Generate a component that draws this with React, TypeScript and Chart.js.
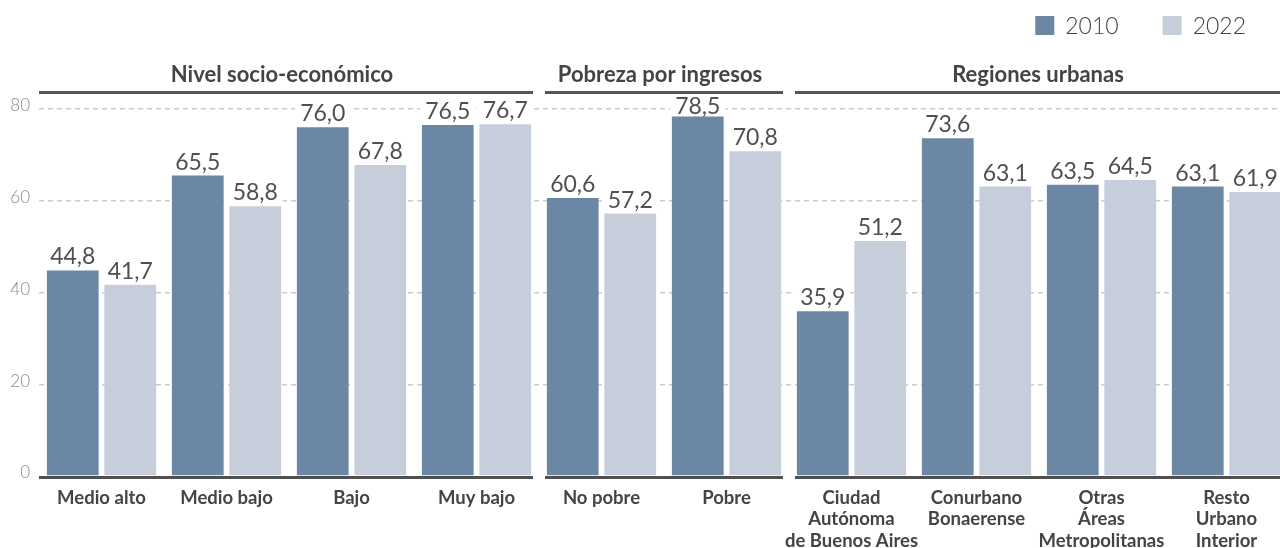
import React, { useEffect, useRef } from "react";
import { Chart, registerables } from "chart.js";

Chart.register(...registerables);

const categories: string[][] = [
  ["Medio alto"],
  ["Medio bajo"],
  ["Bajo"],
  ["Muy bajo"],
  ["No pobre"],
  ["Pobre"],
  ["Ciudad", "Autónoma", "de Buenos Aires"],
  ["Conurbano", "Bonaerense"],
  ["Otras", "Áreas", "Metropolitanas"],
  ["Resto", "Urbano", "Interior"],
];
const groupNames = ["Nivel socio-económico", "Pobreza por ingresos", "Regiones urbanas"];
const groupSizes = [4, 2, 4];
const seriesLabels = ["2010", "2022"];
const values2010 = [44.8, 65.5, 76.0, 76.5, 60.6, 78.5, 35.9, 73.6, 63.5, 63.1];
const values2022 = [41.7, 58.8, 67.8, 76.7, 57.2, 70.8, 51.2, 63.1, 64.5, 61.9];
const yTicks = [0, 20, 40, 60, 80];

const COLORS = ["#6B87A3", "#C7CEDB"];
const FONT = "Lato, 'Noto Sans', sans-serif";

const fmt = (v: number) => v.toFixed(1).replace(".", ",");

const overlayPlugin = {
  id: "overlay",
  afterDatasetsDraw(chart: any) {
    const ctx = chart.ctx;
    const xs = chart.scales.x;
    const ys = chart.scales.y;
    const area = chart.chartArea;
    const n = chart.data.labels.length;
    const step = xs.getPixelForValue(1) - xs.getPixelForValue(0);
    const boundary = (i: number) => xs.getPixelForValue(0) - step / 2 + i * step;
    const y0 = ys.getPixelForValue(0);

    // value labels
    ctx.save();
    ctx.font = `normal 23px ${FONT}`;
    ctx.textAlign = "center";
    ctx.textBaseline = "alphabetic";
    chart.data.datasets.forEach((ds: any, di: number) => {
      const meta = chart.getDatasetMeta(di);
      meta.data.forEach((bar: any, i: number) => {
        const t = fmt(ds.data[i]);
        const w = ctx.measureText(t).width;
        const base = Math.max(bar.y - 6, 113.5);
        ctx.fillStyle = "#ffffff";
        ctx.fillRect(bar.x - w / 2 - 5, base - 19, w + 10, 22);
        ctx.fillStyle = "#505050";
        ctx.fillText(t, bar.x, base);
      });
    });
    ctx.restore();

    // group headers + baselines
    ctx.save();
    let start = 0;
    groupSizes.forEach((size, g) => {
      const end = start + size;
      const left = boundary(start) + (start > 0 ? 6 : 0);
      const right = end < n ? boundary(end) - 6 : area.right;
      ctx.fillStyle = "#555555";
      ctx.fillRect(left, 91, right - left, 3);
      ctx.fillStyle = "#505050";
      ctx.fillRect(left, y0, right - left, 3);
      ctx.fillStyle = "#444444";
      ctx.font = `bold 22px ${FONT}`;
      ctx.textAlign = "center";
      ctx.textBaseline = "alphabetic";
      ctx.fillText(groupNames[g], (left + right) / 2 - 4, 82);
      start = end;
    });
    ctx.restore();

    // legend
    ctx.save();
    ctx.font = `300 23px ${FONT}`;
    ctx.textBaseline = "alphabetic";
    ctx.textAlign = "left";
    let xr = 1246;
    const items = chart.data.datasets.map((d: any) => ({ label: d.label, color: d.backgroundColor }));
    for (let k = items.length - 1; k >= 0; k--) {
      const it = items[k];
      const tw = ctx.measureText(it.label).width;
      const tx = xr - tw;
      ctx.fillStyle = "#444444";
      ctx.fillText(it.label, tx, 34);
      const sx = tx - 11 - 19;
      ctx.fillStyle = it.color;
      ctx.fillRect(sx, 16, 19, 19);
      xr = sx - 44;
    }
    ctx.restore();
  },
};

export default function App() {
  const ref = useRef<HTMLCanvasElement | null>(null);
  useEffect(() => {
    if (!ref.current) return;
    const chart = new Chart(ref.current, {
      type: "bar",
      data: {
        labels: categories,
        datasets: [
          { label: seriesLabels[0], data: values2010, backgroundColor: COLORS[0], categoryPercentage: 0.92, barPercentage: 0.9 },
          { label: seriesLabels[1], data: values2022, backgroundColor: COLORS[1], categoryPercentage: 0.92, barPercentage: 0.9 },
        ],
      },
      options: {
        responsive: false,
        animation: false,
        layout: { padding: { top: 109, right: 1, left: 0, bottom: 0 } },
        plugins: { legend: { display: false }, tooltip: { enabled: false }, title: { display: false } },
        scales: {
          x: {
            grid: { display: false, drawTicks: false },
            border: { display: false },
            ticks: {
              autoSkip: false,
              maxRotation: 0,
              minRotation: 0,
              padding: 11,
              color: "#444444",
              font: { family: FONT, size: 18.5, weight: "bold", lineHeight: 1.16 },
            },
            afterFit: (s: any) => {
              s.height = 72;
            },
          },
          y: {
            min: 0,
            max: 80,
            afterBuildTicks: (s: any) => {
              s.ticks = yTicks.map((v) => ({ value: v }));
            },
            grid: {
              drawTicks: false,
              lineWidth: 1.5,
              color: (c: any) => (c.tick && c.tick.value === 0 ? "rgba(0,0,0,0)" : "#cccccc"),
            },
            border: { display: false, dash: [5, 4] },
            ticks: {
              padding: 9,
              labelOffset: -3,
              color: "#888888",
              font: { family: FONT, size: 17, weight: "300" },
            },
            afterFit: (s: any) => {
              s.width = 39;
            },
          },
        },
      },
      plugins: [overlayPlugin],
    });
    return () => chart.destroy();
  }, []);
  return (
    <div style={{ position: "fixed", left: 0, top: 0, width: 1280, height: 548, overflow: "hidden", background: "#fff" }}>
      <canvas ref={ref} width={1290} height={548} style={{ width: 1290, height: 548, display: "block" }} />
    </div>
  );
}
